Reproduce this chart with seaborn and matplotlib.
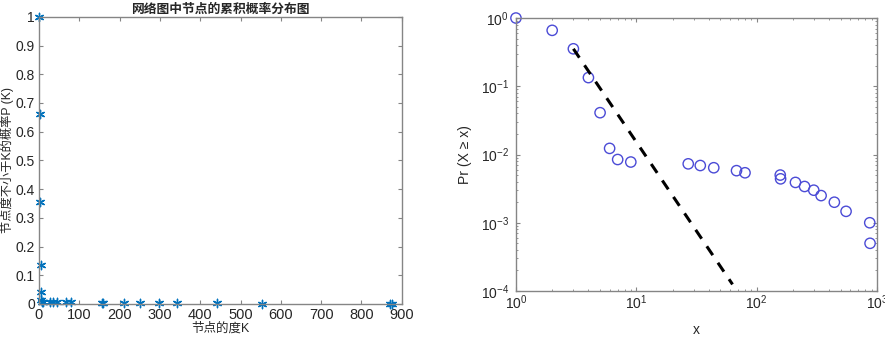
#!/usr/bin/env python3
# cumulative degree distribution: linear view (left) and log-log view (right)
import numpy as np
import pandas as pd
import matplotlib
matplotlib.use('Agg')
import matplotlib.pyplot as plt
import seaborn as sns
from matplotlib.ticker import LogLocator, NullFormatter

# data
degree = [1, 2, 3, 4, 5, 6, 7, 9, 27, 34, 44, 68, 80, 157, 158, 210, 250, 298,
          343, 442, 553, 870, 875]
prob = [1.0, 0.66, 0.354, 0.134, 0.041, 0.0123, 0.00845, 0.00776, 0.0073,
        0.0069, 0.0064, 0.0058, 0.0054, 0.0050, 0.0044, 0.0039, 0.0034,
        0.0030, 0.0025, 0.0020, 0.00147, 0.0010, 0.0005]
# power-law fit line endpoints
fit_x = [3, 63]
fit_y = [0.354, 1.25e-4]

df = pd.DataFrame({'k': degree, 'p': prob})
fit = pd.DataFrame({'k': fit_x, 'p': fit_y})

sns.set_style('ticks')
plt.rcParams['font.family'] = ['Liberation Sans', 'Noto Sans CJK SC', 'DejaVu Sans']
plt.rcParams['mathtext.fontset'] = 'custom'
plt.rcParams['mathtext.rm'] = 'Liberation Sans'

fig = plt.figure(figsize=(8.85, 3.37), dpi=100)
ax1 = fig.add_axes([0.044, 0.098, 0.410, 0.852])
ax2 = fig.add_axes([0.583, 0.1365, 0.408, 0.810])

grey = '#858585'

#--------------left: linear axes-------------
sns.scatterplot(data=df, x='k', y='p', ax=ax1, marker=(6, 2, 0), s=36,
                color='#0072BD', edgecolor='#0072BD', linewidth=1.0, clip_on=False)
ax1.set_xlim(0, 900)
ax1.set_ylim(0, 1)
ax1.set_xticks(np.arange(0, 901, 100))
ax1.set_yticks(np.arange(0, 1.01, 0.1))
ax1.set_yticklabels(['0', '0.1', '0.2', '0.3', '0.4', '0.5', '0.6', '0.7', '0.8', '0.9', '1'])
ax1.set_title('网络图中节点的累积概率分布图', fontsize=9.2, fontweight='bold', pad=3)
ax1.set_xlabel('节点的度K', fontsize=9, labelpad=0)
ax1.set_ylabel('节点度不小于K的概率P (K)', fontsize=8.8)
ax1.yaxis.set_label_coords(-0.069, 0.5)

#--------------right: log-log axes-------------
sns.scatterplot(data=df, x='k', y='p', ax=ax2, marker='o', s=55,
                facecolor='none', edgecolor='#4b4bd6', linewidth=1.0, clip_on=False)
sns.lineplot(data=fit, x='k', y='p', ax=ax2, color='black', linewidth=2.2,
             linestyle=(0, (3.5, 3)))
ax2.set_xscale('log')
ax2.set_yscale('log')
ax2.set_xlim(1, 1000)
ax2.set_ylim(1e-4, 1)
ax2.yaxis.set_major_locator(LogLocator(base=10, numticks=10))
ax2.yaxis.set_minor_locator(LogLocator(base=10, subs=np.arange(2, 10), numticks=20))
ax2.xaxis.set_minor_locator(LogLocator(base=10, subs=np.arange(2, 10), numticks=20))
ax2.xaxis.set_minor_formatter(NullFormatter())
ax2.yaxis.set_minor_formatter(NullFormatter())
ax2.set_xlabel('x', fontsize=10, labelpad=8)
ax2.set_ylabel('Pr (X ≥ x)', fontsize=10, labelpad=6)

# matlab-style box with inward ticks
for ax in (ax1, ax2):
    for s in ax.spines.values():
        s.set_visible(True)
        s.set_color(grey)
        s.set_linewidth(1.0)
    ax.tick_params(which='both', direction='in', top=True, right=True,
                   color=grey, labelsize=10.5, length=3, pad=3)
    ax.tick_params(which='minor', length=1.5)
ax1.tick_params(axis='y', labelsize=10)
ax2.tick_params(which='major', labelsize=10)
ax2.tick_params(axis='x', which='major', pad=2)
ax2.tick_params(axis='y', which='major', pad=5)

fig.savefig('out.png', dpi=100)
